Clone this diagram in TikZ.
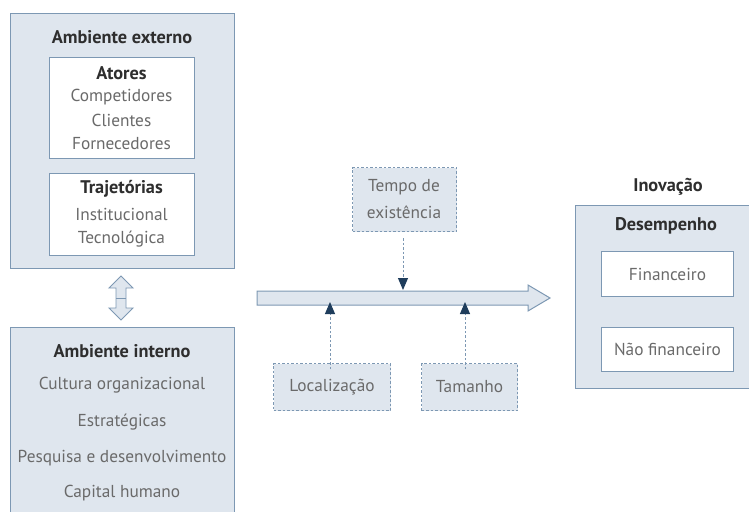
\documentclass[tikz,border=0pt]{standalone}
\usepackage{fontspec}
\setmainfont{PT Sans}
\usetikzlibrary{arrows.meta}
\definecolor{boxfill}{HTML}{DFE6EE}
\definecolor{boxline}{HTML}{7D98B3}
\definecolor{txtdark}{HTML}{2E2E2E}
\definecolor{txtgray}{HTML}{6A6A6A}
\definecolor{navy}{HTML}{1F3D5C}
\begin{document}
\begin{tikzpicture}[x=1pt,y=-1pt,
  panel/.style={draw=boxline,fill=boxfill,line width=1pt},
  whitebox/.style={draw=boxline,fill=white,line width=1pt},
  dashbox/.style={draw=boxline,fill=boxfill,line width=1pt,dash pattern=on 2.5pt off 2pt},
  ttl/.style={font=\fontsize{18.3}{20}\selectfont\bfseries,text=txtdark,inner sep=0pt},
  itm/.style={font=\fontsize{17.3}{20}\selectfont,text=txtgray,inner sep=0pt},
  dasharrow/.style={draw=boxline,line width=1pt,dash pattern=on 2.5pt off 2pt,-{Triangle[length=12pt,width=10pt,fill=navy,color=navy]}}
]
\useasboundingbox (0,0) rectangle (749,511);
% Ambiente externo
\node[panel,minimum width=224pt,minimum height=255pt,anchor=north west,inner sep=0pt] (ext) at (10,13) {};
\node[ttl] (extT) at (122,37) {Ambiente externo};
\node[whitebox,minimum width=145pt,minimum height=101pt,anchor=north west,inner sep=0pt] (ato) at (49,57) {};
\node[ttl] (atoT) at (121.5,73) {Atores};
\node[itm] (a1) at (121.5,97) {Competidores};
\node[itm] (a2) at (121.5,120) {Clientes};
\node[itm] (a3) at (121.5,144) {Fornecedores};
\node[whitebox,minimum width=145pt,minimum height=82pt,anchor=north west,inner sep=0pt] (tra) at (49,173) {};
\node[ttl] (traT) at (121.5,189) {Trajetórias};
\node[itm] (t1) at (121.5,214) {Institucional};
\node[itm] (t2) at (121.5,239) {Tecnológica};
% Ambiente interno
\fill[boxfill] (10,327) rectangle (234,512);
\draw[boxline,line width=1pt] (10,512) -- (10,327) -- (234,327) -- (234,512);
\coordinate (int) at (122,327);
\node[ttl] (intT) at (122,351) {Ambiente interno};
\node[itm] (i1) at (122,385) {Cultura organizacional};
\node[itm] (i2) at (122,422) {Estratégicas};
\node[itm] (i3) at (122,458) {Pesquisa e desenvolvimento};
\node[itm] (i4) at (122,493) {Capital humano};
% double arrow
\draw[panel,line width=0.9pt] (121,276) -- (133,288) -- (126,288) -- (126,308) -- (133,308) -- (121,320) -- (109,308) -- (116,308) -- (116,288) -- (109,288) -- cycle;
\draw[boxline,line width=0.9pt] (116,298) -- (126,298);
% big arrow
\draw[panel] (257,291) -- (528,291) -- (528,285) -- (550,298) -- (528,311) -- (528,305) -- (257,305) -- cycle;
\coordinate (arT) at (403,290);
\coordinate (arL) at (330,306);
\coordinate (arR) at (465,306);
% dashed boxes
\node[dashbox,minimum width=104pt,minimum height=64pt,anchor=north west,inner sep=0pt] (tem) at (352,167) {};
\node[itm] (temA) at (404,187) {Tempo de};
\node[itm] (temB) at (404,212) {existência};
\node[dashbox,minimum width=117pt,minimum height=47pt,anchor=north west,inner sep=0pt] (loc) at (273,363) {};
\node[itm] at (loc.center) {Localização};
\node[dashbox,minimum width=96pt,minimum height=47pt,anchor=north west,inner sep=0pt] (tam) at (421,363) {};
\node[itm] at (tam.center) {Tamanho};
\draw[dasharrow] ([yshift=-6pt]tem.south -| arT) -- (arT);
\draw[dasharrow] ([yshift=-6pt]loc.north -| arL) -- ([yshift=4pt]arL);
\draw[dasharrow] ([yshift=-6pt]tam.north -| arR) -- ([yshift=4pt]arR);
% Inovação
\node[ttl] (inoT) at (668,187) {Inovação};
\node[panel,minimum width=176pt,minimum height=183pt,anchor=north west,inner sep=0pt] (des) at (575,205) {};
\node[ttl] (desT) at (666,226) {Desempenho};
\node[whitebox,minimum width=132pt,minimum height=45pt,anchor=north west,inner sep=0pt] (fin) at (601,251) {};
\node[itm] at (fin.center) {Financeiro};
\node[whitebox,minimum width=132pt,minimum height=44pt,anchor=north west,inner sep=0pt] (nfin) at (601,327) {};
\node[itm] at (nfin.center) {Não financeiro};
\end{tikzpicture}
\end{document}
